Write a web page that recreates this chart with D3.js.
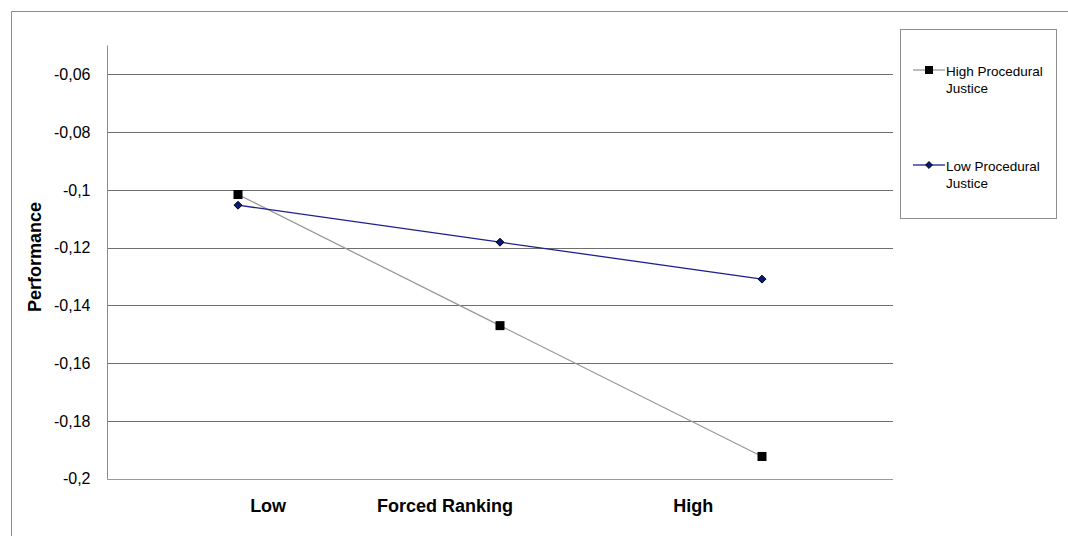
<!DOCTYPE html>
<html>
<head>
<meta charset="utf-8">
<script src="https://cdn.jsdelivr.net/npm/d3@7"></script>
<style>
  html, body { margin: 0; padding: 0; background: #fff; }
  svg { display: block; font-family: "Liberation Sans", Arial, sans-serif; }
</style>
</head>
<body>
<svg id="chart" width="1068" height="536"></svg>
<script>
// ---- data ----
const categories = ["Low", "Mid", "High"];
const highPJ = [-0.1016, -0.1470, -0.1923];
const lowPJ  = [-0.1053, -0.1181, -0.1309];
const yTicks = [-0.2, -0.18, -0.16, -0.14, -0.12, -0.1, -0.08, -0.06];
const xLabels = ["Low", "Forced Ranking", "High"];
const seriesNames = ["High Procedural Justice", "Low Procedural Justice"];

// ---- layout ----
const svg = d3.select("#chart");
const plot = { left: 107, right: 893, top: 45.5, bottom: 478.7 };

const x = d3.scaleBand().domain(categories).range([plot.left, plot.right]).padding(0);
const y = d3.scaleLinear().domain([-0.2, -0.05]).range([plot.bottom, plot.top]);
const cx = c => x(c) + x.bandwidth() / 2;

// outer border (only top and left visible)
svg.append("path").attr("d", "M11.5,536 L11.5,11.5 L1068,11.5")
  .attr("fill", "none").attr("stroke", "#8c8c8c").attr("stroke-width", 1);

// gridlines
const fmt = v => String(+v.toFixed(2)).replace(".", ",");
svg.append("g").selectAll("line").data(yTicks).join("line")
  .attr("x1", plot.left).attr("x2", plot.right)
  .attr("y1", d => Math.round(y(d)) + 0.5).attr("y2", d => Math.round(y(d)) + 0.5)
  .attr("stroke", d => d === -0.2 ? "#9a9a9a" : "#6e6e6e").attr("stroke-width", 1);

// y axis
const yAxis = d3.axisLeft(y).tickValues(yTicks).tickFormat(fmt).tickSize(0).tickPadding(17);
const gy = svg.append("g").attr("transform", `translate(${plot.left + 0.5},0)`).call(yAxis);
gy.select(".domain").attr("stroke", "#8c8c8c").attr("d", `M0,${plot.top}V${plot.bottom}`);
gy.selectAll("text").attr("font-size", 16).attr("fill", "#000")
  .attr("font-family", "Liberation Sans, Arial, sans-serif");

// y title
svg.append("text").attr("transform", "translate(41,257) rotate(-90)")
  .attr("text-anchor", "middle").attr("font-weight", "bold").attr("font-size", 18)
  .text("Performance");

// x labels
const xLabelFrac = [0.205, 0.43, 0.746];
const xl = d3.scaleLinear().domain([0, 1]).range([plot.left, plot.right]);
svg.append("g").selectAll("text").data(xLabels).join("text")
  .attr("x", (d, i) => xl(xLabelFrac[i])).attr("y", 512)
  .attr("text-anchor", "middle").attr("font-weight", "bold").attr("font-size", 18)
  .text(d => d);

// lines
const line = d3.line().x((d, i) => cx(categories[i])).y(d => y(d));
svg.append("path").datum(highPJ).attr("d", line)
  .attr("fill", "none").attr("stroke", "#999").attr("stroke-width", 1.3);
svg.append("path").datum(lowPJ).attr("d", line)
  .attr("fill", "none").attr("stroke", "#1f1f8f").attr("stroke-width", 1.3);

// markers
svg.append("g").selectAll("rect").data(highPJ).join("rect")
  .attr("x", (d, i) => cx(categories[i]) - 4.5).attr("y", d => y(d) - 4.5)
  .attr("width", 9).attr("height", 9).attr("fill", "#000");
const diamond = d3.symbol().type(d3.symbolDiamond2).size(40);
svg.append("g").selectAll("path").data(lowPJ).join("path")
  .attr("d", diamond)
  .attr("transform", (d, i) => `translate(${cx(categories[i])},${y(d)})`)
  .attr("fill", "#0a1a7a").attr("stroke", "#000").attr("stroke-width", 1);

// legend
svg.append("rect").attr("x", 900.5).attr("y", 29.5).attr("width", 156).attr("height", 189)
  .attr("fill", "#fff").attr("stroke", "#8c8c8c");
const leg = svg.append("g");
const legY = [70, 165];
seriesNames.forEach((name, i) => {
  const g = leg.append("g").attr("transform", `translate(0,${legY[i]})`);
  g.append("line").attr("x1", 913).attr("x2", 945).attr("y1", 0).attr("y2", 0)
    .attr("stroke", i === 0 ? "#999" : "#1f1f8f").attr("stroke-width", 1.3);
  if (i === 0) {
    g.append("rect").attr("x", 925).attr("y", -4).attr("width", 8).attr("height", 8).attr("fill", "#000");
  } else {
    g.append("path").attr("d", d3.symbol().type(d3.symbolDiamond2).size(30))
      .attr("transform", "translate(929,0)").attr("fill", "#0a1a7a").attr("stroke", "#000");
  }
  const words = name.split(" ");
  const t = g.append("text").attr("font-size", 13.5).attr("fill", "#000");
  t.append("tspan").attr("x", 946).attr("y", 5.5).text(words.slice(0, 2).join(" "));
  t.append("tspan").attr("x", 946).attr("y", 23).text(words.slice(2).join(" "));
});
</script>
</body>
</html>
